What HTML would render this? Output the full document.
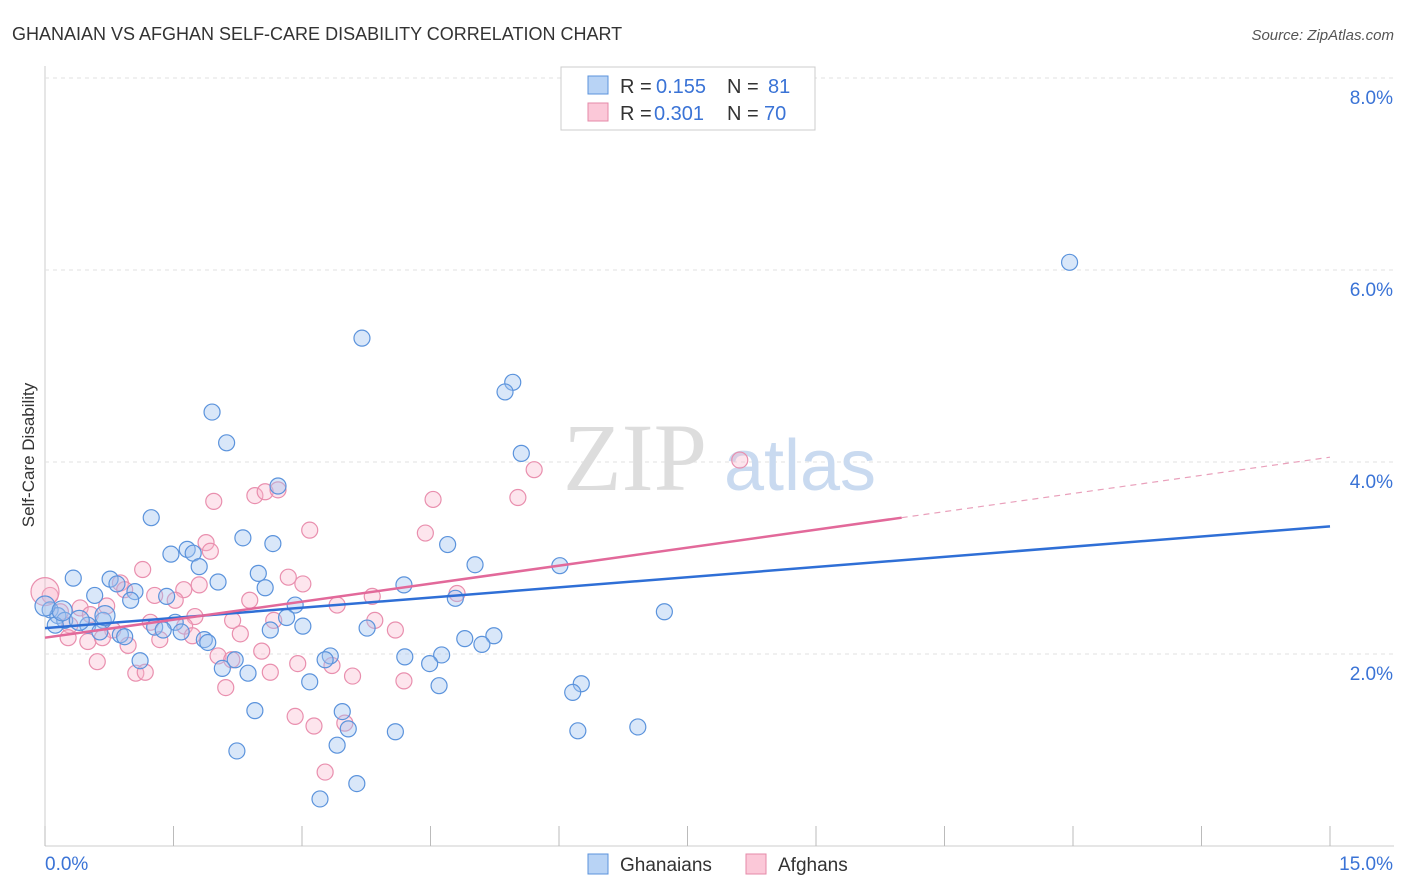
<!DOCTYPE html>
<html><head><meta charset="utf-8"><style>
body{margin:0;background:#fff;font-family:"Liberation Sans",sans-serif}
svg{display:block}
</style></head><body>
<svg width="1406" height="892" id="chart">
<text x="12" y="40" font-size="18" fill="#333">GHANAIAN VS AFGHAN SELF-CARE DISABILITY CORRELATION CHART</text>
<text x="1394" y="40" font-size="15" fill="#555" text-anchor="end" font-style="italic">Source: ZipAtlas.com</text>
<text x="34" y="455" font-size="17" fill="#333" text-anchor="middle" transform="rotate(-90 34 455)">Self-Care Disability</text>
<g id="grid"></g>
<g><text x="635" y="490" font-size="96" font-family="Liberation Serif" fill="#ddd" text-anchor="middle">ZIP</text><text x="800" y="490" font-size="72" fill="#c9daf0" text-anchor="middle">atlas</text></g>
<g id="pts"></g>
<g id="lines"></g>
<g>
<rect x="561" y="67" width="254" height="63" fill="#fff" stroke="#ccc"/>
<rect x="588" y="76" width="20" height="18" fill="#b8d3f5" stroke="#5b93dc"/>
<text x="620" y="93" font-size="20" fill="#333">R =</text>
<text x="656" y="93" font-size="20" fill="#3a73d6">0.155</text>
<text x="727" y="93" font-size="20" fill="#333">N =</text>
<text x="768" y="93" font-size="20" fill="#3a73d6">81</text>
<rect x="588" y="103" width="20" height="18" fill="#fbc8d8" stroke="#e58aa8"/>
<text x="620" y="120" font-size="20" fill="#333">R =</text>
<text x="654" y="120" font-size="20" fill="#3a73d6">0.301</text>
<text x="727" y="120" font-size="20" fill="#333">N =</text>
<text x="764" y="120" font-size="20" fill="#3a73d6">70</text>
</g>
<g>
<rect x="588" y="854" width="20" height="20" fill="#b8d3f5" stroke="#5b93dc"/>
<text x="620" y="871" font-size="19" fill="#333">Ghanaians</text>
<rect x="746" y="854" width="20" height="20" fill="#fbc8d8" stroke="#e58aa8"/>
<text x="778" y="871" font-size="19" fill="#333">Afghans</text>
</g>
</svg>
<script>
const yTicks=[2,4,6,8];
const xTickCount=10;
const blueX=[11.96,3.70,5.46,5.37,1.95,2.12,5.56,2.72,1.24,2.31,2.66,4.70,1.47,1.66,1.73,5.02,6.01,1.80,0.33,0.76,2.02,2.49,0.84,2.57,4.19,0.58,1.05,1.00,1.42,4.79,2.92,7.23,0.06,0.15,0.23,0.12,0.50,0.68,0.64,0.88,0.93,1.28,1.52,1.59,1.38,1.86,1.90,2.82,2.63,3.01,3.76,4.90,5.24,5.10,3.33,3.27,4.20,4.63,4.49,1.11,2.22,2.07,2.37,3.09,4.60,6.26,6.16,2.45,3.47,3.54,4.09,6.22,6.92,2.24,3.41,3.64,3.21,0.0,0.2,0.4,0.7];
const blueY=[6.08,5.29,4.83,4.73,4.52,4.20,4.09,3.75,3.42,3.21,3.15,3.14,3.04,3.09,3.05,2.93,2.92,2.91,2.79,2.78,2.75,2.84,2.73,2.69,2.72,2.61,2.65,2.56,2.60,2.58,2.51,2.44,2.46,2.40,2.35,2.30,2.30,2.35,2.23,2.20,2.18,2.28,2.33,2.23,2.25,2.15,2.12,2.38,2.25,2.29,2.27,2.16,2.19,2.10,1.98,1.94,1.97,1.99,1.90,1.93,1.94,1.85,1.80,1.71,1.67,1.69,1.60,1.41,1.40,1.22,1.19,1.20,1.24,0.99,1.05,0.65,0.49,2.50,2.45,2.35,2.40];
const pinkX=[8.11,5.71,5.52,4.53,1.97,2.45,2.57,2.72,3.09,4.44,1.88,1.93,1.14,2.84,3.01,1.62,1.80,0.88,0.93,1.28,1.52,2.39,3.41,3.82,4.81,0.41,0.72,0.06,0.18,0.53,1.75,2.19,2.67,3.85,0.29,0.79,1.23,1.34,1.63,1.72,2.28,4.09,0.27,0.50,0.67,0.97,2.02,2.18,2.53,2.95,3.35,0.61,1.06,1.17,2.63,3.59,4.19,2.11,2.92,3.14,3.50,3.27,0.0];
const pinkY=[4.02,3.92,3.63,3.61,3.59,3.65,3.69,3.71,3.29,3.26,3.16,3.07,2.88,2.80,2.73,2.67,2.72,2.74,2.67,2.61,2.56,2.56,2.51,2.60,2.63,2.48,2.50,2.61,2.44,2.41,2.39,2.35,2.35,2.35,2.30,2.25,2.33,2.15,2.29,2.19,2.21,2.25,2.17,2.13,2.17,2.09,1.98,1.94,2.03,1.90,1.88,1.92,1.80,1.81,1.81,1.77,1.72,1.65,1.35,1.25,1.28,0.77,2.65];
const blueLine=[2.27,3.33];
const pinkLine=[2.17,3.42,4.05];
const X=v=>45+v*85.667, Y=v=>846-v*96;
const NS="http://www.w3.org/2000/svg";
const mk=(t,a,p)=>{const e=document.createElementNS(NS,t);for(const k in a)e.setAttribute(k,a[k]);p.appendChild(e);return e;};
const grid=document.getElementById('grid');
const ax=mk('line',{x1:45,y1:66,x2:45,y2:846,stroke:'#ccc'},grid);


const bx=mk('line',{x1:45,y1:846,x2:1394,y2:846,stroke:'#ccc'},grid);


yTicks.forEach(v=>{
 const g=mk('line',{x1:45,y1:Y(v),x2:1394,y2:Y(v),stroke:'#e2e2e2','stroke-dasharray':'4,4'},grid);
 
 
 const t=mk('text',{x:1393,y:Y(v)+26,'font-size':19,fill:'#3a73d6','text-anchor':'end'},grid);
 t.textContent=v.toFixed(1)+'%';
 
 
});
for(let i=0;i<=xTickCount;i++){
 const tk=mk('line',{x1:X(i*1.5),y1:826,x2:X(i*1.5),y2:846,stroke:'#bbb'},grid);
 
 
}
const xl=mk('text',{x:45,y:870,'font-size':19,fill:'#3a73d6'},grid);xl.textContent='0.0%';


const xr=mk('text',{x:1393,y:870,'font-size':19,fill:'#3a73d6','text-anchor':'end'},grid);xr.textContent='15.0%';


const pts=document.getElementById('pts');
pinkX.forEach((x,i)=>{
 const c=mk('circle',{cx:X(x),cy:Y(pinkY[i]),r:i==pinkX.length-1?14:8,fill:'rgba(248,180,203,0.35)',stroke:'#e98fae','stroke-width':1.2},pts);
 
 
});
blueX.forEach((x,i)=>{
 const c=mk('circle',{cx:X(x),cy:Y(blueY[i]),r:i>=blueX.length-4?10:8,fill:'rgba(160,196,240,0.4)',stroke:'#5b93dc','stroke-width':1.2},pts);
 
 
});
const L=document.getElementById('lines');
const bl=mk('line',{x1:X(0),y1:Y(blueLine[0]),x2:X(15),y2:Y(blueLine[1]),stroke:'#2f6fd6','stroke-width':2.5},L);


const pl=mk('line',{x1:X(0),y1:Y(pinkLine[0]),x2:X(10),y2:Y(pinkLine[1]),stroke:'#e2699a','stroke-width':2.5},L);


const pd=mk('line',{x1:X(10),y1:Y(pinkLine[1]),x2:X(15),y2:Y(pinkLine[2]),stroke:'#e9a0bb','stroke-width':1.2,'stroke-dasharray':'6,5'},L);


</script>
</body></html>
